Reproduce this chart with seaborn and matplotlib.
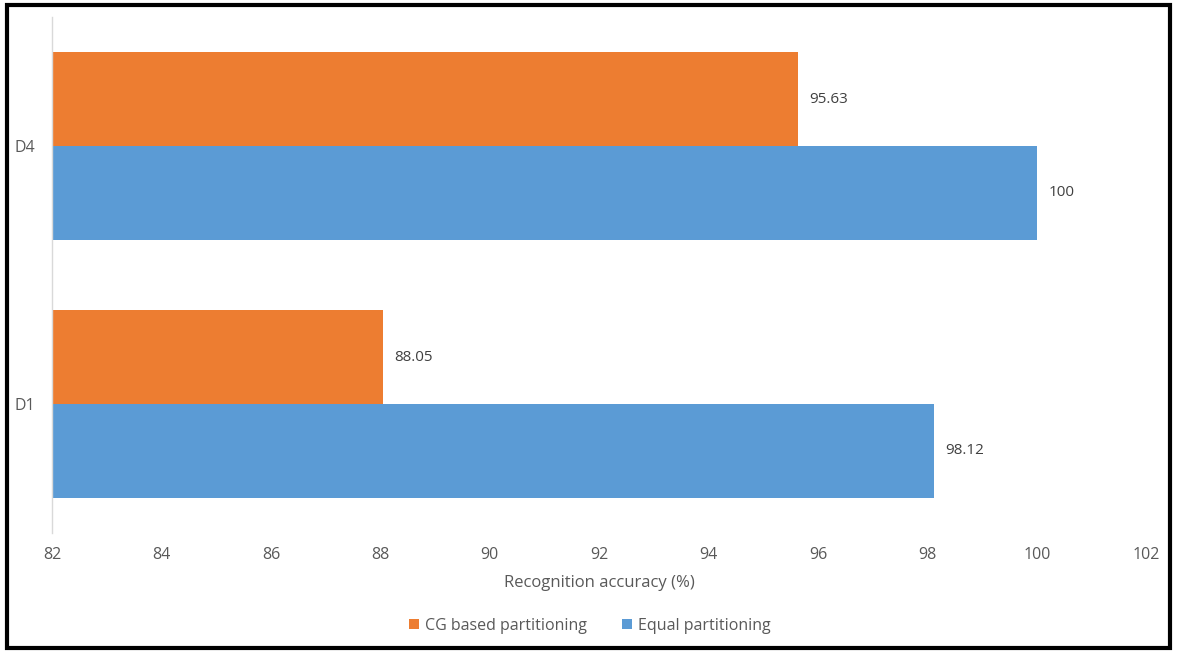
import matplotlib
matplotlib.use('agg')

import matplotlib.pyplot as plt
import seaborn as sns
import pandas as pd
from matplotlib.patches import Rectangle

datasets = ["D4", "D1"]
methods = ["CG based partitioning", "Equal partitioning"]
cg_acc = [95.63, 88.05]
equal_acc = [100, 98.12]
cg_labels = ["95.63", "88.05"]
equal_labels = ["100", "98.12"]
x_ticks = list(range(82, 103, 2))

df = pd.DataFrame({
    "dataset": datasets * 2,
    "method": [methods[0]] * 2 + [methods[1]] * 2,
    "acc": cg_acc + equal_acc,
})

sns.set_style("white")
plt.rcParams['font.family'] = ['Open Sans', 'DejaVu Sans']
text_col = "#595959"

fig = plt.figure(figsize=(11.77, 6.53), dpi=100)
ax = fig.add_axes([52 / 1177, 1 - 533 / 653, (1146.6 - 52) / 1177, (533 - 17) / 653])

sns.barplot(data=df, y="dataset", x="acc", hue="method", order=datasets, hue_order=methods,
            palette=["#ED7D31", "#5B9BD5"], saturation=1, width=0.726, linewidth=0,
            orient="h", ax=ax, legend=True)

for cont, labs in zip(ax.containers, [cg_labels, equal_labels]):
    ax.bar_label(cont, labels=labs, padding=8, fontsize=11, color="#404040")

ax.set_xlim(82, 102)
ax.set_ylim(1.5, -0.5)
ax.set_xticks(x_ticks)
ax.tick_params(axis='both', length=0, labelsize=11.5, labelcolor=text_col, pad=10)
ax.tick_params(axis='y', pad=12)
ax.set_xlabel("Recognition accuracy (%)", fontsize=12, color=text_col, labelpad=9)
ax.set_ylabel("")

for s in ["top", "right", "bottom"]:
    ax.spines[s].set_visible(False)
ax.spines["left"].set_color("#d9d9d9")
ax.spines["left"].set_linewidth(1)

handles, labels = ax.get_legend_handles_labels()
ax.legend_.remove()
fig.legend(handles, labels, loc="center", bbox_to_anchor=(590 / 1177, 1 - 626 / 653), ncol=2,
           frameon=False, fontsize=11.5, handlelength=0.6, handleheight=0.6, handletextpad=0.4,
           columnspacing=2.2, labelcolor=text_col)

fig.patches.append(Rectangle((7 / 1177, 5 / 653), 1163 / 1177, 643 / 653, transform=fig.transFigure,
                             fill=False, edgecolor="black", linewidth=3, zorder=10))

fig.savefig("out.png", dpi=100)
